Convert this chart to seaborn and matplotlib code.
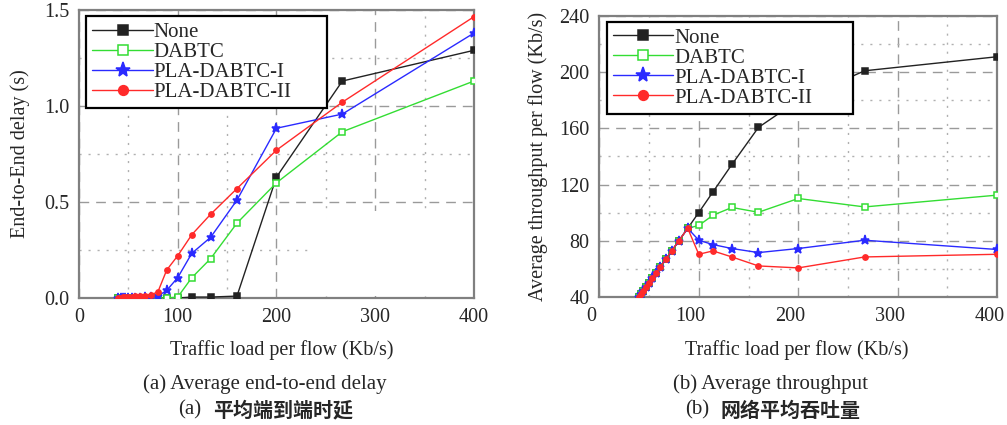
"""
Delay and throughput vs. traffic load for None / DABTC / PLA-DABTC-I / PLA-DABTC-II.
"""

import matplotlib
matplotlib.use("Agg")
import matplotlib.pyplot as plt
from matplotlib.patches import Rectangle
from matplotlib.ticker import MultipleLocator
from matplotlib.transforms import ScaledTranslation
import seaborn as sns

LOAD = [40, 42.1, 44.4, 47.1, 50, 53.3, 57.1, 61.5, 66.7, 72.7,
        80, 88.9, 100, 114.3, 133.3, 160, 200, 266.7, 400]

DELAY_NONE = [0.0, 0.0, 0.0, 0.0, 0.0, 0.0, 0.0, 0.0, 0.0, 0.0,
              0.0, 0.0, 0.0, 0.005, 0.005, 0.01, 0.63, 1.13, 1.29]
DELAY_DABTC = [0.0, 0.0, 0.0, 0.0, 0.0, 0.0, 0.0, 0.0, 0.0, 0.0,
               0.0, 0.0, 0.005, 0.106, 0.205, 0.39, 0.60, 0.866, 1.13]
DELAY_PLA1 = [0.0, 0.0, 0.0, 0.0, 0.0, 0.0, 0.0, 0.0, 0.003, 0.005,
              0.01, 0.04, 0.106, 0.233, 0.316, 0.51, 0.884, 0.958, 1.38]
DELAY_PLA2 = [0.0, 0.002, 0.003, 0.004, 0.005, 0.006, 0.008, 0.01, 0.012, 0.015,
              0.033, 0.146, 0.22, 0.33, 0.436, 0.57, 0.77, 1.02, 1.465]

THR_NONE = [40, 42.1, 44.4, 47.1, 50, 53.3, 57.1, 61.5, 66.7, 72.7,
            80, 88.9, 100.1, 114.8, 134.3, 160.7, 180, 201, 211]
THR_DABTC = [40, 42.1, 44.4, 47.1, 50, 53.3, 57.1, 61.5, 66.7, 72.7,
             80, 88.9, 90.9, 98.2, 103.7, 100.3, 110.1, 104.1, 112.5]
THR_PLA1 = [40, 42.1, 44.4, 47.1, 50, 53.3, 57.1, 61.5, 66.7, 72.7,
            80, 88.9, 80.4, 77.3, 74.5, 71.6, 74.5, 80.4, 73.8]
THR_PLA2 = [40, 42.1, 44.4, 47.1, 50, 53.3, 57.1, 61.5, 66.7, 72.7,
            80, 88.9, 70.4, 72.8, 68.5, 62.1, 60.7, 68.5, 70.4]

SERIES = ["None", "DABTC", "PLA-DABTC-I", "PLA-DABTC-II"]

# colour, marker, filled
STYLES = {
    "None": ("#222222", "s", True),
    "DABTC": ("#33dd33", "s", False),
    "PLA-DABTC-I": ("#2a2aff", "*", True),
    "PLA-DABTC-II": ("#ff2a2a", "o", True),
}

SERIF = "Liberation Serif"
CJK = "Noto Sans CJK SC"
FS = 14.5


def style_axes(ax, xmaj, xmin, ymaj, ymin):
    ax.set_facecolor("white")
    ax.xaxis.set_major_locator(MultipleLocator(xmaj))
    ax.xaxis.set_minor_locator(MultipleLocator(xmin))
    ax.yaxis.set_major_locator(MultipleLocator(ymaj))
    ax.yaxis.set_minor_locator(MultipleLocator(ymin))
    ax.grid(which="major", color="#9a9a9a", linestyle=(0, (7, 5)), linewidth=1.0)
    ax.grid(which="minor", color="#b0b0b0", linestyle=(0, (1.5, 5)), linewidth=1.0)
    for sp in ax.spines.values():
        sp.set_color("#808080")
        sp.set_linewidth(1.6)
    ax.tick_params(which="both", direction="inout", color="#707070", length=6,
                   width=1.0, labelsize=FS, pad=4)
    ax.tick_params(which="minor", length=0)
    for lbl in ax.get_xticklabels() + ax.get_yticklabels():
        lbl.set_fontfamily(SERIF)


def draw(ax, values, legend_box):
    for name, ys in zip(SERIES, values):
        color, marker, filled = STYLES[name]
        ms = 6.5 if marker == "*" else 3.8
        sns.lineplot(
            x=LOAD, y=ys, ax=ax, color=color, linewidth=1.0,
            marker=marker, markersize=ms,
            markerfacecolor=color if filled else "white",
            markeredgecolor=color, markeredgewidth=1.1,
            label=name, zorder=3, sort=False, estimator=None,
        )
    leg = ax.legend(
        loc="upper left", bbox_to_anchor=legend_box, mode="expand",
        frameon=True, fancybox=False, edgecolor="black", framealpha=1.0,
        prop={"family": SERIF, "size": FS + 0.5}, handlelength=2.9,
        handletextpad=0.05, labelspacing=0.02, borderpad=0.3,
        borderaxespad=0.0,
    )
    leg.get_frame().set_linewidth(1.6)
    for line in leg.get_lines():
        line.set_markersize(7 if line.get_marker() != "*" else 11)


sns.set_theme(style="white")
plt.rcParams["font.family"] = [SERIF, CJK, "DejaVu Sans"]

fig = plt.figure(figsize=(10.07, 4.25), dpi=100)
ax1 = fig.add_axes([0.0784, 0.2988, 0.3923, 0.6777])
ax2 = fig.add_axes([0.5951, 0.3012, 0.3952, 0.6612])

draw(ax1, [DELAY_NONE, DELAY_DABTC, DELAY_PLA1, DELAY_PLA2],
     (0.018, 0.979, 0.61, 0.0))
ax1.set_xlim(0, 400)
ax1.set_ylim(0, 1.5)
ax1.set_yticks([0.0, 0.5, 1.0, 1.5])
ax1.set_yticklabels(["0.0", "0.5", "1.0", "1.5"])
style_axes(ax1, 100, 50, 0.5, 0.25)
ax1.set_xlabel("")
ax1.set_ylabel("End-to-End delay (s)", fontsize=FS, family=SERIF, labelpad=10)
# scanned-page white patch over lower right grid
ax1.add_patch(Rectangle((0.58, 0.007), 0.415, 0.295, transform=ax1.transAxes,
                        facecolor="white", edgecolor="none", zorder=1.5))

draw(ax2, [THR_NONE, THR_DABTC, THR_PLA1, THR_PLA2],
     (0.019, 0.979, 0.618, 0.0))
ax2.set_xlim(0, 400)
ax2.set_ylim(40, 240)
ax2.set_xticks([0, 100, 200, 300, 400])
style_axes(ax2, 100, 50, 40, 20)
ax2.set_xlabel("")
ax2.set_ylabel("Average throughput per flow (Kb/s)", fontsize=FS, family=SERIF,
               labelpad=8)
shift = ScaledTranslation(-0.08, 0, fig.dpi_scale_trans)
for lbl in ax2.get_xticklabels():
    lbl.set_transform(lbl.get_transform() + shift)

fig.text(0.280, 0.176, "Traffic load per flow (Kb/s)", ha="center", va="center",
         fontsize=FS, family=SERIF)
fig.text(0.791, 0.176, "Traffic load per flow (Kb/s)", ha="center", va="center",
         fontsize=FS, family=SERIF)
fig.text(0.263, 0.096, "(a) Average end-to-end delay", ha="center", va="center",
         fontsize=15, family=SERIF)
fig.text(0.765, 0.096, "(b) Average throughput", ha="center", va="center",
         fontsize=15, family=SERIF)

# Chinese captions: serif tag + CJK text
fig.text(178 / 1007, 0.035, "(a)", ha="left", va="center",
         fontsize=15, family=SERIF)
fig.text(213 / 1007, 0.035, "平均端到端时延", ha="left", va="center",
         fontsize=14.4, family=[CJK, SERIF], fontweight="bold")
fig.text(685 / 1007, 0.035, "(b)", ha="left", va="center",
         fontsize=15, family=SERIF)
fig.text(720 / 1007, 0.035, "网络平均吞吐量", ha="left", va="center",
         fontsize=14.4, family=[CJK, SERIF], fontweight="bold")

fig.savefig("out.png", dpi=100, facecolor="white")
